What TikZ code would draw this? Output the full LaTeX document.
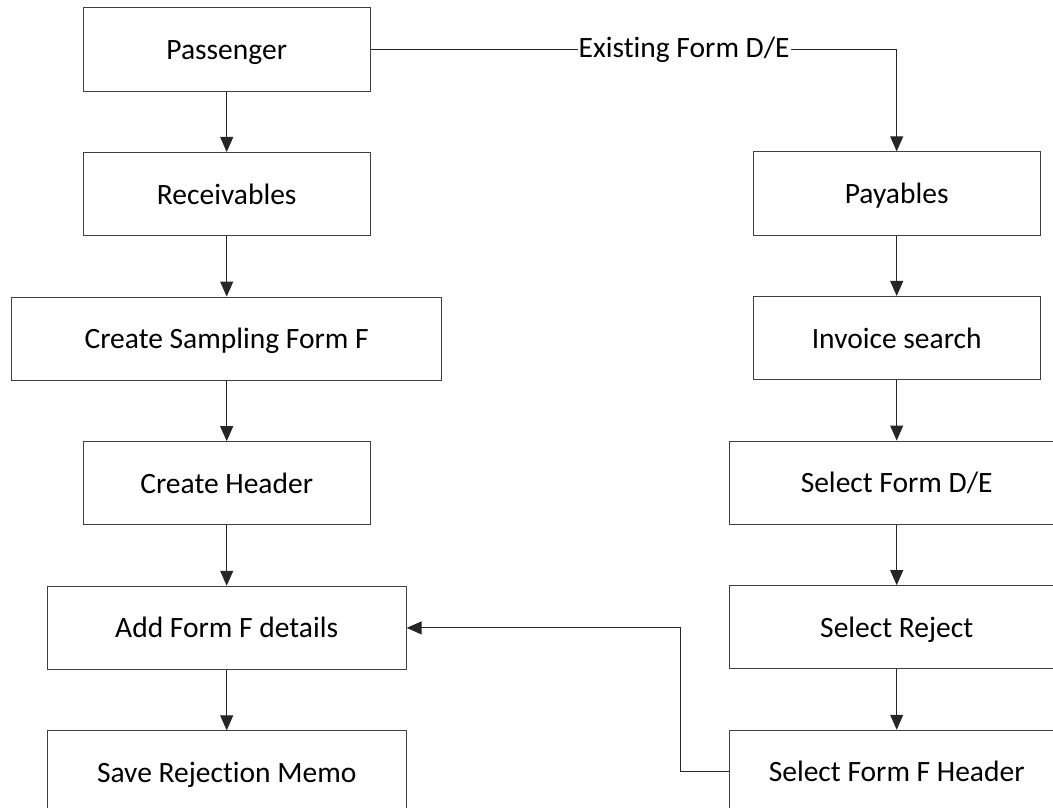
\documentclass[tikz,border=0pt]{standalone}
\usepackage{fontspec}
\setmainfont{Carlito}[Ligatures=NoCommon]
\usetikzlibrary{arrows.meta,positioning}

\begin{document}
\begin{tikzpicture}[
    x=1pt, y=-1pt,
    node distance=60.3pt,
    proc/.style={rectangle, draw=black!75, line width=1pt, minimum height=83.3pt, text centered, text height=20pt, text depth=0pt, font=\fontsize{29.5}{34}\selectfont},
    flow/.style={draw=black!85, line width=1pt, -{Triangle[length=15pt,width=13pt]}},
    tag/.style={fill=white, inner sep=1pt, font=\fontsize{29.5}{34}\selectfont}
]
\clip (0,0) rectangle (1053,807);

% Left column
\node [proc, minimum width=287pt] (pass) at (226.7,49.5) {Passenger};
\node [proc, minimum width=287pt, below=of pass] (recv) {Receivables};
\node [proc, minimum width=430.3pt, below=of recv] (samp) {Create Sampling Form F};
\node [proc, minimum width=287pt, below=of samp] (head) {Create Header};
\node [proc, minimum width=359pt, below=of head] (addf) {Add Form F details};
\node [proc, minimum width=359pt, below=of addf] (memo) {Save Rejection Memo};

% Right column
\node [proc, minimum width=287pt] (pay) at (896.7,193.5) {Payables};
\node [proc, minimum width=287pt, below=of pay] (inv) {Invoice search};
\node [proc, minimum width=335.4pt, below=of inv] (selde) {Select Form D/E};
\node [proc, minimum width=335.4pt, below=of selde] (rej) {Select Reject};
\node [proc, minimum width=335.4pt, below=of rej] (self) {Select Form F Header};

% Connectors
\draw [flow] (pass) -- (recv);
\draw [flow] (recv) -- (samp);
\draw [flow] (samp) -- (head);
\draw [flow] (head) -- (addf);
\draw [flow] (addf) -- (memo);
\draw [flow] (pass.east) -| node [tag, pos=0.298] {Existing Form D/E} (pay.north);
\draw [flow] (pay) -- (inv);
\draw [flow] (inv) -- (selde);
\draw [flow] (selde) -- (rej);
\draw [flow] (rej) -- (self);
\draw [flow] (self.west) -- ++(-47.7,0) |- (addf.east);

\end{tikzpicture}
\end{document}
